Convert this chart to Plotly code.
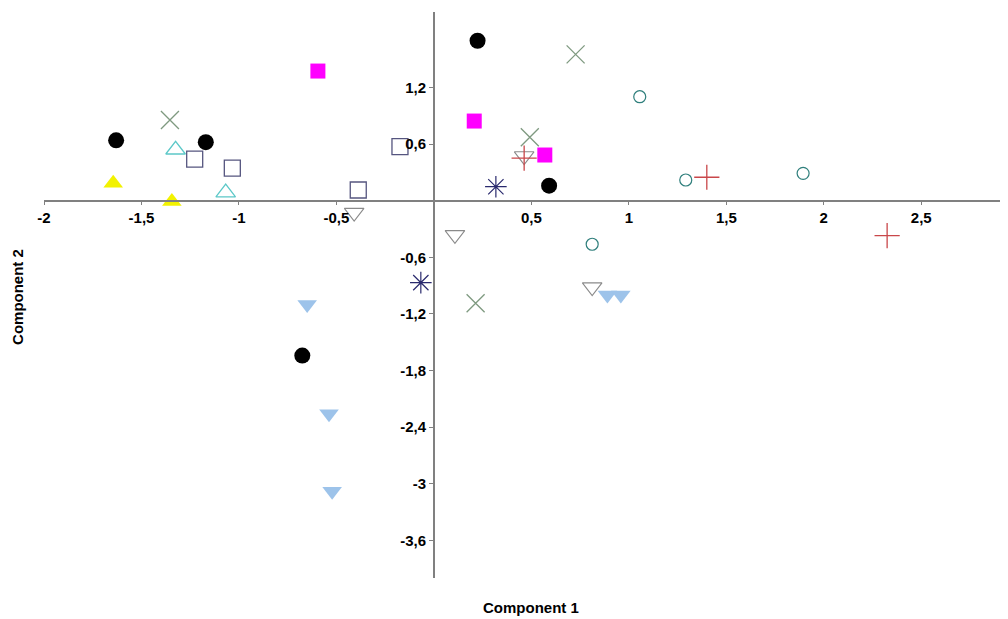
import plotly.graph_objects as go

# Data (Component 1, Component 2)
black_x = [-1.63, -1.17, 0.224, 0.591, -0.675]
black_y = [0.64, 0.62, 1.695, 0.159, -1.642]

magenta_x = [-0.595, 0.207, 0.569]
magenta_y = [1.374, 0.844, 0.484]

xgreen_x = [-1.354, 0.727, 0.492, 0.214]
xgreen_y = [0.855, 1.551, 0.672, -1.087]

cyantri_x = [-1.325, -1.068]
cyantri_y = [0.54, 0.085]

yellow_x = [-1.645, -1.344]
yellow_y = [0.184, -0.01]

psquare_x = [-1.227, -1.034, -0.388, -0.174]
psquare_y = [0.44, 0.346, 0.113, 0.572]

graytri_x = [-0.409, 0.108, 0.812, 0.463]
graytri_y = [-0.127, -0.363, -0.917, 0.473]

redplus_x = [1.4, 2.325, 0.463]
redplus_y = [0.248, -0.371, 0.45]

teal_x = [1.056, 1.292, 1.894, 0.812]
teal_y = [1.102, 0.219, 0.29, -0.462]

aster_x = [0.318, -0.067]
aster_y = [0.148, -0.869]

lblue_x = [-0.65, 0.89, 0.959, -0.538, -0.522]
lblue_y = [-1.10, -1.0, -1.0, -2.26, -3.08]

x_ticks = [-2, -1.5, -1, -0.5, 0.5, 1, 1.5, 2, 2.5]
x_ticktext = ["-2", "-1,5", "-1", "-0,5", "0,5", "1", "1,5", "2", "2,5"]
y_ticks = [1.2, 0.6, -0.6, -1.2, -1.8, -2.4, -3, -3.6]
y_ticktext = ["1,2", "0,6", "-0,6", "-1,2", "-1,8", "-2,4", "-3", "-3,6"]

X_RANGE = [-2, 2.945]
Y_RANGE = [-4, 2]

fig = go.Figure()

def add(x, y, symbol, size, color, line_color=None, line_width=1.2):
    fig.add_trace(go.Scatter(
        x=x, y=y, mode="markers",
        marker=dict(symbol=symbol, size=size, color=color,
                    line=dict(color=line_color or color, width=line_width)),
        showlegend=False, hoverinfo="skip"))

add(black_x, black_y, "circle", 16, "black", "black", 0)
add(magenta_x, magenta_y, "square", 15, "#ff00ff", "#ff00ff", 0)
add(xgreen_x, xgreen_y, "x-thin-open", 18, "#7f9a80", line_width=1.3)
add(cyantri_x, cyantri_y, "triangle-up-open", 17, "#5cc8c8", line_width=1.3)
add(yellow_x, yellow_y, "triangle-up", 17, "#f2f200", "#f2f200", 0)
add(psquare_x, psquare_y, "square-open", 16, "#55557f", line_width=1.3)
add(graytri_x, graytri_y, "triangle-down-open", 17, "#8a8a8a", line_width=1.1)
add(redplus_x, redplus_y, "cross-thin-open", 18, "#c9474a", line_width=1.3)
add(teal_x, teal_y, "circle-open", 12, "#2f7f7c", line_width=1.2)
add(aster_x, aster_y, "asterisk-open", 18, "#2a2a6e", line_width=1.2)
add(lblue_x, lblue_y, "triangle-down", 17, "#9dc3ea", "#9dc3ea", 0)

tick_font = dict(family="Liberation Sans, Arial, sans-serif", size=15, color="black", weight="bold")
title_font = dict(family="Liberation Sans, Arial, sans-serif", size=15, color="black", weight="bold")

fig.update_layout(
    width=1000, height=611,
    margin=dict(l=36, r=0, t=4, b=41),
    plot_bgcolor="white", paper_bgcolor="white",
    xaxis=dict(range=X_RANGE, showgrid=False, zeroline=False,
               showline=True, linecolor="#808080", linewidth=1.5,
               anchor="free", position=(0 - Y_RANGE[0]) / (Y_RANGE[1] - Y_RANGE[0]),
               tickvals=x_ticks, ticktext=x_ticktext, ticks="outside",
               ticklen=4, tickcolor="#808080", tickfont=tick_font),
    yaxis=dict(range=Y_RANGE, showgrid=False, zeroline=False,
               showline=True, linecolor="#808080", linewidth=1.5,
               anchor="free", position=(0 - X_RANGE[0]) / (X_RANGE[1] - X_RANGE[0]),
               tickvals=y_ticks, ticktext=y_ticktext, ticks="outside",
               ticklen=4, tickcolor="#808080", tickfont=tick_font),
    annotations=[
        dict(text="Component 1", xref="paper", yref="paper", x=0.505, y=-0.053,
             showarrow=False, font=title_font, xanchor="center", yanchor="middle"),
        dict(text="Component 2", xref="paper", yref="paper", x=-0.027, y=0.4965,
             showarrow=False, font=title_font, textangle=-90,
             xanchor="center", yanchor="middle"),
    ],
)

fig.write_html("out.html")
